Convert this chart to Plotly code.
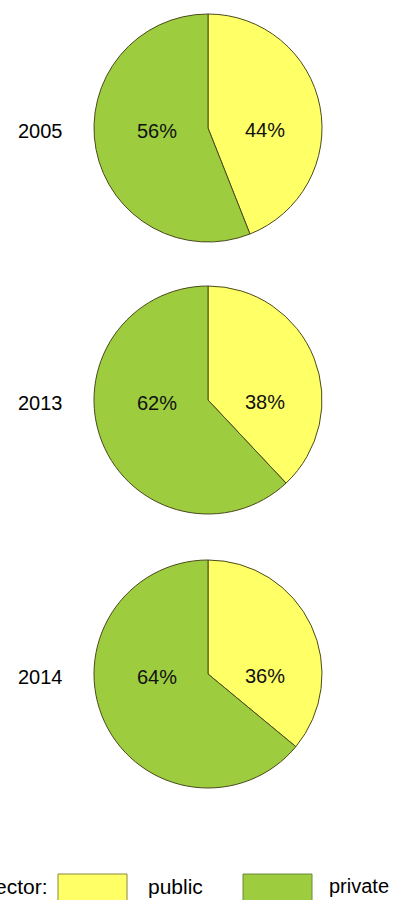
import plotly.graph_objects as go

# Share of schools by sector
years = ["2005", "2013", "2014"]
public_share = [44, 38, 36]
private_share = [56, 62, 64]
sectors = ["public", "private"]
legend_title = "Sector:"

YELLOW = "#FFFF66"
GREEN = "#9DCD3E"
EDGE = "#4a4a1c"
FONT = "Liberation Sans, Arial, Helvetica, sans-serif"

W, H = 397, 900
CX, R = 208, 114
centers_y = [128, 400, 674]


def px(x):
    return x / W


def py(y):
    return 1 - y / H


fig = go.Figure()
annotations = []
for year, pub, priv, cy in zip(years, public_share, private_share, centers_y):
    fig.add_trace(go.Pie(
        labels=sectors,
        values=[pub, priv],
        sort=False,
        direction="clockwise",
        rotation=0,
        textinfo="none",
        hoverinfo="label+percent",
        showlegend=False,
        marker=dict(colors=[YELLOW, GREEN], line=dict(color=EDGE, width=1)),
        domain=dict(x=[px(CX - R), px(CX + R)], y=[py(cy + R), py(cy - R)]),
    ))
    # year label on the left
    annotations.append(dict(
        x=px(40), y=py(cy + 3), xref="paper", yref="paper",
        text=year, showarrow=False, xanchor="center", yanchor="middle",
        font=dict(family=FONT, size=20, color="#000"),
    ))
    # percentage labels inside the slices
    annotations.append(dict(
        x=px(CX + 57), y=py(cy + 2), xref="paper", yref="paper",
        text=f"{pub}%", showarrow=False, xanchor="center", yanchor="middle",
        font=dict(family=FONT, size=20, color="#111"),
    ))
    annotations.append(dict(
        x=px(CX - 51), y=py(cy + 3), xref="paper", yref="paper",
        text=f"{priv}%", showarrow=False, xanchor="center", yanchor="middle",
        font=dict(family=FONT, size=20, color="#111"),
    ))

# legend drawn as swatches and text at the bottom
legend_y = 886
shapes = [
    dict(type="rect", xref="paper", yref="paper",
         x0=px(58), x1=px(127), y0=py(905), y1=py(874),
         fillcolor=YELLOW, line=dict(color="#8a8a3a", width=1)),
    dict(type="rect", xref="paper", yref="paper",
         x0=px(243), x1=px(312), y0=py(905), y1=py(874),
         fillcolor=GREEN, line=dict(color="#6a8a3a", width=1)),
]
annotations.append(dict(
    x=px(50), y=py(legend_y), xref="paper", yref="paper",
    text=legend_title, showarrow=False, xanchor="right", yanchor="middle",
    font=dict(family=FONT, size=21, color="#000"),
))
annotations.append(dict(
    x=px(146), y=py(legend_y), xref="paper", yref="paper",
    text=sectors[0], showarrow=False, xanchor="left", yanchor="middle",
    font=dict(family=FONT, size=21, color="#000"),
))
annotations.append(dict(
    x=px(327), y=py(legend_y), xref="paper", yref="paper",
    text=sectors[1], showarrow=False, xanchor="left", yanchor="middle",
    font=dict(family=FONT, size=20, color="#000"),
))

fig.update_layout(
    width=W, height=H,
    margin=dict(l=0, r=0, t=0, b=0),
    paper_bgcolor="white",
    plot_bgcolor="white",
    annotations=annotations,
    shapes=shapes,
)

fig.write_html("out.html")
